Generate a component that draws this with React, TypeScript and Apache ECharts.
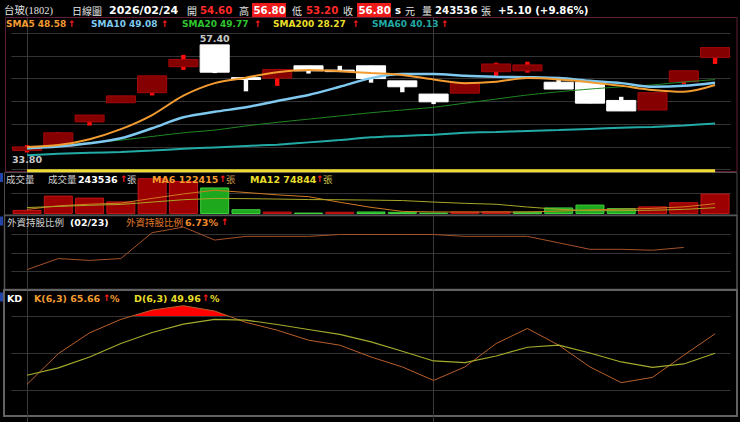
import React, { useEffect, useRef } from 'react';
import * as echarts from 'echarts';

// ---------- data ----------
const DATES = ['01/14', '01/15', '01/16', '01/19', '01/20', '01/21', '01/22', '01/23', '01/26', '01/27', '01/28', '01/29', '01/30',
  '02/02', '02/03', '02/04', '02/05', '02/06', '02/09', '02/10', '02/11', '02/23', '02/24'];
const OPEN = [34.2, 35.1, 40.5, 44.7, 46.9, 52.6, 57.4, 50.2, 50.1, 52.8, 51.85, 52.8, 49.5, 46.6, 46.8, 51.5, 51.7, 49.2, 49.2, 45.2, 43.1, 49.3, 54.6];
const CLOSE = [35.0, 38.1, 42.0, 46.2, 50.6, 54.2, 51.4, 49.8, 52.0, 51.7, 51.8, 50.0, 48.2, 44.9, 49.1, 53.2, 53.0, 47.7, 44.6, 42.9, 46.9, 51.7, 56.8];
const LOW = [33.8, 35.0, 39.7, 44.7, 46.3, 51.9, 51.2, 47.2, 48.4, 51.1, 51.5, 49.1, 47.0, 44.4, 46.8, 50.6, 51.3, 47.7, 44.6, 42.9, 43.1, 48.8, 53.2];
const HIGH = [35.4, 38.2, 42.0, 46.2, 50.6, 55.2, 57.4, 50.2, 52.0, 52.8, 52.8, 52.8, 49.5, 46.6, 49.1, 53.5, 53.7, 49.7, 49.2, 46.0, 46.9, 51.7, 56.8];

const SMA5 = [35.0, 35.4, 36.7, 38.9, 42.0, 46.25, 49.0, 50.2, 51.4, 51.9, 51.6, 51.2, 50.8, 49.8, 49.0, 49.3, 50.1, 49.8, 49.2, 48.4, 47.5, 47.1, 48.58];
const SMA10 = [34.7, 35.1, 35.8, 36.9, 39.1, 41.5, 42.7, 43.7, 45.1, 46.4, 48.2, 50.1, 51.0, 51.0, 50.6, 50.4, 50.3, 50.1, 49.5, 49.0, 48.2, 48.4, 49.08];
const SMA20 = [34.5, 35.2, 35.9, 36.5, 37.3, 38.1, 38.7, 39.6, 40.4, 41.1, 41.8, 42.5, 43.1, 43.7, 44.6, 45.5, 46.4, 47.1, 47.7, 48.2, 48.6, 49.25, 49.77];
const SMA60 = [33.2, 33.5, 33.7, 33.9, 34.2, 34.6, 34.9, 35.2, 35.5, 36.0, 36.5, 37.1, 37.4, 37.7, 38.1, 38.3, 38.5, 38.7, 38.95, 39.2, 39.4, 39.7, 40.13];
const SMA200 = [27.18, 27.22, 27.27, 27.33, 27.40, 27.47, 27.55, 27.61, 27.66, 27.71, 27.76, 27.81, 27.85, 27.89, 27.93, 27.97, 28.01, 28.05, 28.09, 28.12, 28.16, 28.21, 28.27];

const VOLUME = [49000, 219000, 195000, 150000, 426000, 393000, 316000, 57000, 29000, 17000, 27000, 30000, 26000, 18000, 29000, 31000, 29600,
  78000, 112000, 70000, 91000, 140000, 243536];
const VOL_UP = [true, true, true, true, true, true, false, false, true, false, true, false, false, false, true, true, false,
  false, false, false, true, true, true];
const VOL_MA6 = [55000, 98000, 117000, 129000, 186000, 239000, 283000, 256000, 228000, 206000, 140000, 79000, 31000, 25000, 24000, 24000, 25000,
  34000, 50000, 57000, 67000, 85000, 122415];
const VOL_MA12 = [77000, 90000, 104000, 114000, 142000, 170000, 185000, 183000, 178000, 172000, 170000, 165000, 160000, 142000, 127000, 116000, 83000,
  56000, 39000, 40000, 45000, 55000, 74844];

const FOREIGN = [6.61, 6.67, 6.66, 6.67, 6.81, 6.84, 6.77, 6.79, 6.79, 6.79, 6.80, 6.80, 6.80, 6.80, 6.79, 6.79, 6.79, 6.755, 6.72, 6.72, 6.715, 6.73, null];
const FOREIGN_DATE = '02/23';

const K = [25.0, 49.7, 66.4, 77.2, 84.7, 88.2, 83.9, 74.8, 68.5, 60.5, 56.5, 47.0, 39.0, 28.2, 39.0, 57.8, 69.9, 56.5, 39.0, 26.4, 30.6, 48.4, 65.66];
const D = [32.3, 38.2, 47.0, 57.8, 66.7, 73.4, 77.2, 76.6, 73.1, 69.1, 65.1, 59.1, 51.6, 43.8, 42.5, 47.8, 54.8, 56.5, 50.2, 43.0, 38.7, 41.4, 49.96];

const MONTH_MARKS = ['01/14', '02/02'];
const KD_OVERBOUGHT = 80;

// ---------- layout / style ----------
const PRICE_FLOOR = 29.8; // visible bottom of the price panel (values below sit on the floor)
const LEFT = 11.4;
const WIDTH = 719.3;
const PX_PRICE = 4.5575; // px per price unit
const PX_KD = 1.245; // px per KD unit

const C_ORANGE = '#f29b30';
const C_BLUE = '#7fc9f0';
const C_GREEN = '#2fc62f';
const C_YELLOW = '#e8de2a';
const C_TEAL = '#22aaa6';
const C_ARROW = '#ff1e1e';
const C_GRAY = '#d4d4d4';
const CJK = '"Noto Sans CJK TC", sans-serif';
const LAT = '"DejaVu Sans", sans-serif';

const last = (a: (number | null)[]) => {
  for (let i = a.length - 1; i >= 0; i--) if (a[i] != null) return a[i] as number;
  return 0;
};

const txt = (x: number, y: number, text: string, fill: string, size: number, family: string, weight = 'normal') => ({
  type: 'text', x, y, silent: true, z: 20,
  style: {
    text, fill, fontSize: size, fontFamily: family, fontWeight: weight,
    align: 'left', verticalAlign: 'middle', textAlign: 'left', textVerticalAlign: 'middle',
  },
});
const arrow = (x: number, y: number) => txt(x, y, '↑', C_ARROW, 9, LAT, 'bold');
const box = (x: number, y: number, w: number, h: number, stroke: string, lw = 1) => ({
  type: 'rect', silent: true, z: 0,
  shape: { x, y, width: w, height: h },
  style: { fill: 'none', stroke, lineWidth: lw },
});
const fill = (x: number, y: number, w: number, h: number, color: string) => ({
  type: 'rect', silent: true, z: 1,
  shape: { x, y, width: w, height: h },
  style: { fill: color },
});

function buildOption() {
  const n = DATES.length;
  const candleData = DATES.map((_, i) => [i, OPEN[i], CLOSE[i], LOW[i], HIGH[i]]);
  let hiIdx = 0;
  let loIdx = 0;
  HIGH.forEach((v, i) => { if (v > HIGH[hiIdx]) hiIdx = i; });
  LOW.forEach((v, i) => { if (v < LOW[loIdx]) loIdx = i; });
  const monthIdx = MONTH_MARKS.map((d) => DATES.indexOf(d));

  const priceMin = 25;
  const priceMax = 63.4;
  const kdMin = -10;
  const kdMax = 100;

  const grids = [
    { left: LEFT, width: WIDTH, top: 17.5, height: (priceMax - priceMin) * PX_PRICE, outerBoundsMode: 'none' },
    { left: LEFT, width: WIDTH, top: 172, height: 42, outerBoundsMode: 'none' },
    { left: LEFT, width: WIDTH, top: 216, height: 74, outerBoundsMode: 'none' },
    { left: LEFT, width: WIDTH, top: 291, height: (kdMax - kdMin) * PX_KD, outerBoundsMode: 'none' },
  ];
  const xAxis = grids.map((_, gi) => ({
    type: 'category', gridIndex: gi, data: DATES, boundaryGap: true,
    axisLine: { show: false }, axisTick: { show: false }, axisLabel: { show: false },
    splitLine: {
      show: true, alignWithLabel: true,
      interval: (i: number) => monthIdx.includes(i),
      lineStyle: { color: '#3a3a3a', width: 1 },
    },
  }));
  const valAxis = (gi: number, min: number, max: number, interval: number) => ({
    type: 'value', gridIndex: gi, min, max, interval,
    axisLine: { show: false }, axisTick: { show: false }, axisLabel: { show: false },
    splitLine: { show: true, showMinLine: false, showMaxLine: false, lineStyle: { color: '#333', width: 1 } },
  });
  const yAxis = [
    valAxis(0, priceMin, priceMax, 5),
    valAxis(1, 0, 500000, 250000),
    valAxis(2, 6.5, 6.9, 0.1),
    valAxis(3, kdMin, kdMax, 30),
  ];

  const line = (data: (number | null)[], color: string, width: number, xi: number, z = 3, smooth: number | boolean = false) => ({
    type: 'line', xAxisIndex: xi, yAxisIndex: xi, data, showSymbol: false, symbol: 'none', smooth,
    lineStyle: { color, width }, itemStyle: { color }, z, silent: true,
  });

  const series: any[] = [
    {
      type: 'custom', xAxisIndex: 0, yAxisIndex: 0, z: 2, silent: true,
      data: candleData,
      encode: { x: 0, y: [1, 2, 3, 4] },
      renderItem: (params: any, api: any) => {
        const i = api.value(0);
        const o = api.value(1);
        const c = api.value(2);
        const l = api.value(3);
        const h = api.value(4);
        const pO = api.coord([i, o]);
        const pC = api.coord([i, c]);
        const pL = api.coord([i, l]);
        const pH = api.coord([i, h]);
        const bw = api.size([1, 0])[0] * 0.93;
        const up = c >= o;
        const x = pO[0];
        const top = Math.min(pO[1], pC[1]);
        const bot = Math.max(pO[1], pC[1]);
        const bh = Math.max(bot - top, 1.5);
        return {
          type: 'group',
          children: [
            {
              type: 'rect',
              shape: { x: x - 2.2, y: pH[1], width: 4.4, height: Math.max(pL[1] - pH[1], 1) },
              style: { fill: up ? '#ff0d0d' : '#ffffff' },
            },
            {
              type: 'rect',
              shape: { x: x - bw / 2, y: top, width: bw, height: bh },
              style: { fill: up ? '#850000' : '#ffffff', stroke: up ? '#a30808' : '#ffffff', lineWidth: 1 },
            },
          ],
        };
      },
    },
    line(SMA200.map((v) => Math.max(v, PRICE_FLOOR)), '#f0dc30', 3, 0, 3),
    line(SMA60, C_TEAL, 2, 0, 3, 0.2),
    line(SMA20, '#1f8a22', 1, 0, 3, 0.2),
    line(SMA10, C_BLUE, 2.5, 0, 3, 0.3),
    line(SMA5, C_ORANGE, 2, 0, 4, 0.3),
    {
      type: 'scatter', xAxisIndex: 0, yAxisIndex: 0, z: 5, silent: true,
      symbolSize: 1, itemStyle: { color: 'rgba(0,0,0,0)' },
      label: { show: true, color: '#ffffff', fontWeight: 'bold', fontSize: 9.5, fontFamily: LAT },
      data: [
        { value: [hiIdx, HIGH[hiIdx]], label: { position: 'top', distance: 1, formatter: HIGH[hiIdx].toFixed(2) } },
        { value: [loIdx, LOW[loIdx]], label: { position: 'bottom', distance: 2, formatter: LOW[loIdx].toFixed(2) } },
      ],
    },
    {
      type: 'bar', xAxisIndex: 1, yAxisIndex: 1, z: 2, silent: true, barWidth: 29,
      data: VOLUME.map((v, i) => ({
        value: v,
        itemStyle: {
          color: VOL_UP[i] ? '#9c0000' : '#1ea81e',
          borderColor: VOL_UP[i] ? '#c41414' : '#3fd03f',
          borderWidth: 1,
        },
      })),
    },
    line(VOL_MA6, '#d07a22', 1, 1, 3),
    line(VOL_MA12, '#a8a628', 1, 1, 3),
    line(FOREIGN, '#a4522a', 1, 2, 3),
    {
      type: 'line', xAxisIndex: 3, yAxisIndex: 3, data: K, showSymbol: false, symbol: 'none', silent: true, z: 2,
      lineStyle: { width: 0 },
      areaStyle: { opacity: 1 },
    },
    line(K, '#b8602a', 1, 3, 3),
    line(D, '#a4aa2c', 1.2, 3, 3),
  ];

  const kdAreaIndex = 11;

  const chg = CLOSE[n - 1] - CLOSE[n - 2];
  const pct = (chg / CLOSE[n - 2]) * 100;
  const HY = 10;
  const graphic = [
    // panel frames
    box(5.5, 17.5, 731.5, 154, '#5e1f36'),
    box(4.5, 172.5, 732.5, 42.5, '#4a4a4a'),
    box(4.5, 215.5, 732.5, 74, '#555555', 1.5),
    box(4, 290, 733, 126, '#626262', 2),
    fill(0, 173, 3, 9, '#2244a8'),
    fill(0, 216.5, 3, 9, '#2244a8'),
    fill(0, 292.5, 3, 9, '#2244a8'),
    // header
    txt(4, HY, '台玻(1802)', '#e4e4e4', 10.5, '"Liberation Serif", "Noto Sans CJK TC", serif'),
    txt(72, HY, '日線圖', '#e4e4e4', 10, CJK),
    txt(109, HY, '2026/02/24', '#ffffff', 11, LAT, 'bold'),
    txt(187, HY, '開', '#e4e4e4', 10, CJK),
    txt(200, HY, OPEN[n - 1].toFixed(2), '#ff2a2a', 10.2, LAT, 'bold'),
    txt(239, HY, '高', '#e4e4e4', 10, CJK),
    fill(252, 3, 34, 14, '#ec1a1a'),
    txt(253.5, HY, HIGH[n - 1].toFixed(2), '#ffffff', 10.2, LAT, 'bold'),
    txt(292, HY, '低', '#e4e4e4', 10, CJK),
    txt(306, HY, LOW[n - 1].toFixed(2), '#ff2a2a', 10.2, LAT, 'bold'),
    txt(343, HY, '收', '#e4e4e4', 10, CJK),
    fill(357, 3, 34, 14, '#ec1a1a'),
    txt(358.5, HY, CLOSE[n - 1].toFixed(2), '#ffffff', 10.2, LAT, 'bold'),
    txt(395, HY, 's', '#ffffff', 10, LAT, 'bold'),
    txt(405, HY, '元', '#e4e4e4', 10, CJK),
    txt(422, HY, '量', '#e4e4e4', 10, CJK),
    txt(435, HY, String(VOLUME[n - 1]), '#ffffff', 10.2, LAT, 'bold'),
    txt(481, HY, '張', '#e4e4e4', 10, CJK),
    txt(498, HY, `+${chg.toFixed(2)} (+${pct.toFixed(2)}%)`, '#ffffff', 10.2, LAT, 'bold'),
    // price legend
    txt(6, 24.3, `SMA5 ${last(SMA5).toFixed(2)}`, C_ORANGE, 9, LAT, 'bold'), arrow(68, 24.3),
    txt(91, 24.3, `SMA10 ${last(SMA10).toFixed(2)}`, C_BLUE, 9, LAT, 'bold'), arrow(161, 24.3),
    txt(182, 24.3, `SMA20 ${last(SMA20).toFixed(2)}`, C_GREEN, 9, LAT, 'bold'), arrow(254, 24.3),
    txt(273, 24.3, `SMA200 ${last(SMA200).toFixed(2)}`, C_YELLOW, 9, LAT, 'bold'), arrow(352, 24.3),
    txt(372, 24.3, `SMA60 ${last(SMA60).toFixed(2)}`, C_TEAL, 9, LAT, 'bold'), arrow(441, 24.3),
    // volume legend
    txt(6, 179, '成交量', C_GRAY, 9.5, CJK),
    txt(48, 179, '成交量', C_GRAY, 9.5, CJK),
    txt(78, 179, String(VOLUME[n - 1]), '#ffffff', 9.5, LAT, 'bold'), arrow(120, 179),
    txt(127, 179, '張', C_GRAY, 9.5, CJK),
    txt(152, 179, `MA6 ${last(VOL_MA6)}`, C_ORANGE, 9.5, LAT, 'bold'), arrow(219, 179),
    txt(226, 179, '張', '#c89a48', 9.5, CJK),
    txt(250, 179, `MA12 ${last(VOL_MA12)}`, C_YELLOW, 9.5, LAT, 'bold'), arrow(316, 179),
    txt(323, 179, '張', '#c8c048', 9.5, CJK),
    // foreign holding legend
    txt(7, 222, '外資持股比例', C_GRAY, 9.5, CJK),
    txt(70, 222, `(${FOREIGN_DATE})`, '#ffffff', 9.5, LAT, 'bold'),
    txt(126, 222, '外資持股比例', '#e07a2a', 9.5, CJK),
    txt(185, 222, `${last(FOREIGN).toFixed(2)}%`, '#ef8a2c', 9.5, LAT, 'bold'), arrow(221, 222),
    // KD legend
    txt(7, 298, 'KD', '#ffffff', 9.5, LAT, 'bold'),
    txt(34, 298, `K(6,3) ${last(K).toFixed(2)}`, C_ORANGE, 9.5, LAT, 'bold'), arrow(103, 298),
    txt(110, 298, '%', C_ORANGE, 9.5, LAT, 'bold'),
    txt(134, 298, `D(6,3) ${last(D).toFixed(2)}`, C_YELLOW, 9.5, LAT, 'bold'), arrow(202, 298),
    txt(210, 298, '%', C_YELLOW, 9.5, LAT, 'bold'),
  ];

  return {
    animation: false,
    backgroundColor: '#000000',
    grid: grids,
    xAxis,
    yAxis,
    visualMap: [
      {
        type: 'piecewise', show: false, seriesIndex: kdAreaIndex, dimension: 1,
        pieces: [
          { gte: -50, lte: KD_OVERBOUGHT, color: 'rgba(0,0,0,0)' },
          { gt: KD_OVERBOUGHT, lte: 150, color: '#ff0000' },
        ],
        outOfRange: { color: 'rgba(0,0,0,0)' },
      },
    ],
    series,
    graphic,
  };
}

export default function App() {
  const ref = useRef<HTMLDivElement>(null);
  useEffect(() => {
    if (!ref.current) return;
    const chart = echarts.init(ref.current, undefined, { renderer: 'svg' });
    chart.setOption(buildOption() as any);
    return () => chart.dispose();
  }, []);
  return (
    <div
      ref={ref}
      style={{ position: 'fixed', left: 0, top: 0, width: 740, height: 422, background: '#000' }}
    />
  );
}
